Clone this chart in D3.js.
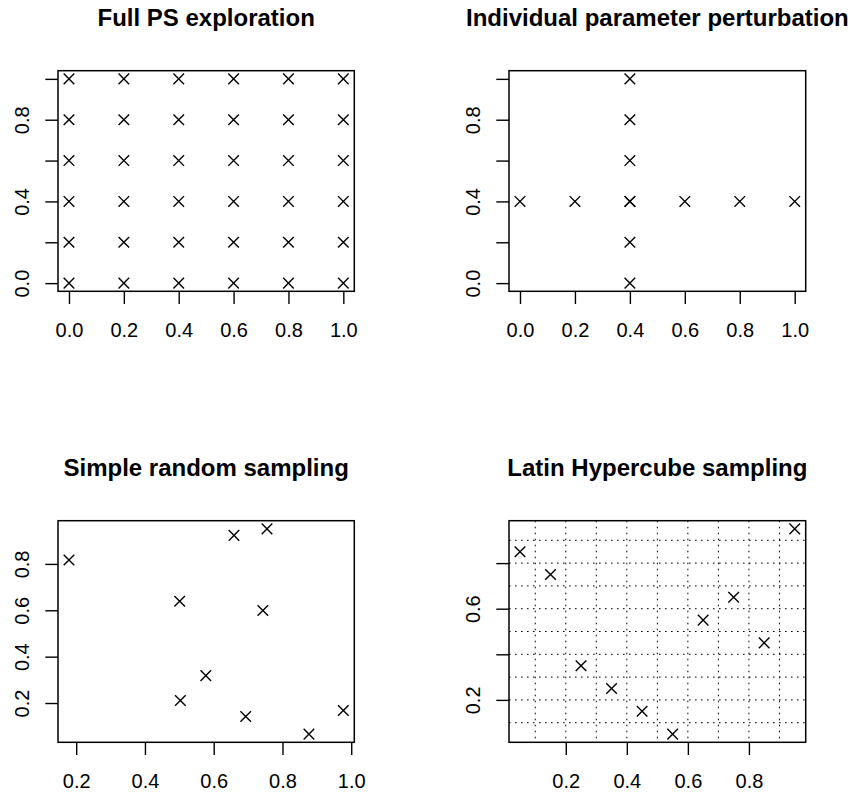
<!DOCTYPE html>
<html>
<head>
<meta charset="utf-8">
<script src="https://cdn.jsdelivr.net/npm/d3@7"></script>
<style>
  html, body { margin: 0; padding: 0; background: #fff; }
  svg { display: block; font-family: "Liberation Sans", Arial, Helvetica, sans-serif; }
</style>
</head>
<body>
<svg id="chart" width="861" height="794"></svg>
<script>
// ---------- data ----------
const titles = ["Full PS exploration", "Individual parameter perturbation", "Simple random sampling", "Latin Hypercube sampling"];

const fullLevelsX = [0, 0.2, 0.4, 0.6, 0.8, 1.0];
const fullLevelsY = [0, 0.2, 0.4, 0.6, 0.8, 1.0];

const oatX = [0, 0.2, 0.4, 0.6, 0.8, 1.0, 0.4, 0.4, 0.4, 0.4, 0.4, 0.4];
const oatY = [0.4, 0.4, 0.4, 0.4, 0.4, 0.4, 0, 0.2, 0.4, 0.6, 0.8, 1.0];

const srsX = [0.179, 0.501, 0.503, 0.577, 0.659, 0.755, 0.743, 0.693, 0.877, 0.977];
const srsY = [0.817, 0.639, 0.211, 0.318, 0.923, 0.951, 0.599, 0.142, 0.066, 0.168];

const lhsX = [0.05, 0.15, 0.25, 0.35, 0.45, 0.55, 0.65, 0.75, 0.85, 0.95];
const lhsY = [0.85, 0.75, 0.35, 0.25, 0.15, 0.05, 0.55, 0.65, 0.45, 0.95];
const lhsGrid = [0.1, 0.2, 0.3, 0.4, 0.5, 0.6, 0.7, 0.8, 0.9];

const ticksX1 = [0, 0.2, 0.4, 0.6, 0.8, 1.0];
const ticksY1 = [0, 0.2, 0.4, 0.6, 0.8, 1.0];
const labelsY1 = [0, 0.4, 0.8];
const ticksX3 = [0.2, 0.4, 0.6, 0.8, 1.0];
const ticksY3 = [0.2, 0.4, 0.6, 0.8];
const labelsY3 = [0.2, 0.4, 0.6, 0.8];
const ticksX4 = [0.2, 0.4, 0.6, 0.8];
const ticksY4 = [0.2, 0.4, 0.6, 0.8];
const labelsY4 = [0.2, 0.6];

// ---------- panels ----------
const fullPoints = d3.cross(fullLevelsX, fullLevelsY);
const panels = [
  { title: titles[0], pts: fullPoints, box: [58, 70.7, 354.3, 291.3],
    xt: ticksX1, xl: ticksX1, yt: ticksY1, yl: labelsY1 },
  { title: titles[1], pts: d3.zip(oatX, oatY), box: [509, 70.7, 805.7, 291.3],
    xt: ticksX1, xl: ticksX1, yt: ticksY1, yl: labelsY1 },
  { title: titles[2], pts: d3.zip(srsX, srsY), box: [58, 520.7, 354.3, 742.3],
    xt: ticksX3, xl: ticksX3, yt: ticksY3, yl: labelsY3 },
  { title: titles[3], pts: d3.zip(lhsX, lhsY), box: [509, 520.7, 805.7, 742.3],
    xt: ticksX4, xl: ticksX4, yt: ticksY4, yl: labelsY4, grid: lhsGrid }
];

const svg = d3.select("#chart");
const fmt = d3.format(".1f");
const tickLen = 12.7;

function padded(vals) {
  const [a, b] = d3.extent(vals);
  const p = (b - a) * 0.04;
  return [a - p, b + p];
}

panels.forEach((P, i) => {
  const [x0, y0, x1, y1] = P.box;
  const xs = P.pts.map(d => d[0]), ys = P.pts.map(d => d[1]);
  const x = d3.scaleLinear().domain(padded(xs)).range([x0, x1]);
  const y = d3.scaleLinear().domain(padded(ys)).range([y1, y0]);
  const g = svg.append("g");

  const clipId = "clip" + i;
  svg.append("clipPath").attr("id", clipId)
    .append("rect").attr("x", x0).attr("y", y0).attr("width", x1 - x0).attr("height", y1 - y0);

  // grid (LHS)
  if (P.grid) {
    const gg = g.append("g").attr("clip-path", `url(#${clipId})`)
      .attr("stroke", "#000").attr("stroke-width", 1).attr("stroke-dasharray", "1.6,4.4");
    gg.selectAll("line.v").data(P.grid).join("line").attr("class", "v")
      .attr("x1", d => x(d)).attr("x2", d => x(d)).attr("y1", y0).attr("y2", y1);
    gg.selectAll("line.h").data(P.grid).join("line").attr("class", "h")
      .attr("y1", d => y(d)).attr("y2", d => y(d)).attr("x1", x0).attr("x2", x1);
  }

  // x axis
  const xa = g.append("g").attr("transform", `translate(0,${y1})`)
    .call(d3.axisBottom(x).tickValues(P.xt).tickSize(tickLen).tickPadding(18.6)
      .tickFormat(d => P.xl.some(v => Math.abs(v - d) < 1e-9) ? fmt(d) : ""));
  xa.select(".domain").remove();
  xa.selectAll(".tick line").attr("stroke", "#000").attr("stroke-width", 1.4);
  xa.selectAll(".tick text").attr("fill", "#000").attr("font-size", 20)
    .attr("font-family", "Liberation Sans, Arial, Helvetica, sans-serif");

  // y axis
  const ya = g.append("g").attr("transform", `translate(${x0},0)`)
    .call(d3.axisLeft(y).tickValues(P.yt).tickSize(tickLen)
      .tickFormat(d => P.yl.some(v => Math.abs(v - d) < 1e-9) ? fmt(d) : ""));
  ya.select(".domain").remove();
  ya.selectAll(".tick line").attr("stroke", "#000").attr("stroke-width", 1.4);
  ya.selectAll(".tick text").attr("fill", "#000").attr("font-size", 20)
    .attr("font-family", "Liberation Sans, Arial, Helvetica, sans-serif")
    .attr("transform", "rotate(-90)").attr("x", 0).attr("y", -29.5).attr("dy", 0)
    .attr("text-anchor", "middle");

  // box
  g.append("rect").attr("x", x0).attr("y", y0).attr("width", x1 - x0).attr("height", y1 - y0)
    .attr("fill", "none").attr("stroke", "#000").attr("stroke-width", 1.5);

  // points (pch = 4)
  const s = 5.3;
  g.append("g").attr("stroke", "#000").attr("stroke-width", 1.4).attr("fill", "none")
    .selectAll("path").data(P.pts).join("path")
    .attr("d", d => {
      const cx = x(d[0]), cy = y(d[1]);
      return `M${cx - s},${cy - s}L${cx + s},${cy + s}M${cx - s},${cy + s}L${cx + s},${cy - s}`;
    });

  // title
  g.append("text").attr("x", (x0 + x1) / 2).attr("y", y0 - 44.5)
    .attr("text-anchor", "middle").attr("font-size", 24).attr("font-weight", "bold")
    .attr("fill", "#000").text(P.title);
});
</script>
</body>
</html>
